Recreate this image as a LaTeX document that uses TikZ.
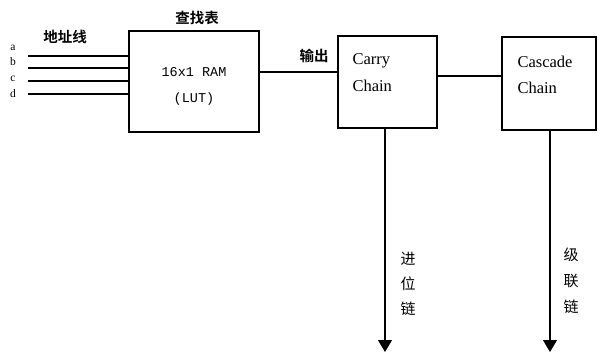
\documentclass[tikz,border=0pt]{standalone}
\usepackage{fontspec}
\setmainfont{Liberation Serif}
\newfontfamily\cjk{Noto Sans CJK SC Bold}
\newfontfamily\cjkr{Noto Sans CJK SC}
\newfontfamily\monof{Liberation Mono}
\usetikzlibrary{arrows.meta}
\begin{document}
\begin{tikzpicture}[x=1pt,y=-1pt,
  line width=1.1pt,
  blk/.style={draw, inner sep=0pt},
  cn/.style={font=\cjk\fontsize{14.5}{15}\selectfont, inner sep=0pt},
  cnv/.style={font=\cjkr\fontsize{15}{16}\selectfont, inner sep=0pt},
  lat/.style={font=\fontsize{16.5}{17}\selectfont, inner sep=0pt, anchor=west},
  addr/.style={font=\fontsize{11.5}{12}\selectfont, inner sep=0pt},
  arr/.style={-{Triangle[length=12pt,width=14pt]}}
]
\useasboundingbox (0,0) rectangle (598,353);
% boxes
\node[blk, minimum width=130pt, minimum height=101pt] (lut) at (194,81.5) {};
\node[blk, minimum width=99pt, minimum height=92pt] (carry) at (387.5,82) {};
\node[blk, minimum width=94pt, minimum height=93pt] (casc) at (549,83.5) {};
% texts
\node[cn] (t1) at (197,18) {查找表};
\node[cn] (t2) at (65,37) {地址线};
\node[cn] (t3) at (314,56) {输出};
\node[font=\monof\fontsize{13.5}{14}\selectfont, inner sep=0pt] (ram) at (194,72) {16x1 RAM};
\node[font=\monof\fontsize{13.5}{14}\selectfont, inner sep=0pt] (lutt) at (194,99) {(LUT)};
\node[lat] (c1) at (352,61) {Carry};
\node[lat] (c2) at (352,86) {Chain};
\node[lat] (d1) at (517,62) {Cascade};
\node[lat] (d2) at (517,88) {Chain};
% address inputs
\node[addr] (la) at (13,48) {a};
\node[addr] (lb) at (13,62) {b};
\node[addr] (lc) at (13,79) {c};
\node[addr] (ld) at (13,94) {d};
\coordinate (ia) at (28,56);
\coordinate (ib) at (28,68);
\coordinate (ic) at (28,81);
\coordinate (id) at (28,94);
\draw (ia) -- (ia -| lut.west);
\draw (ib) -- (ib -| lut.west);
\draw (ic) -- (ic -| lut.west);
\draw (id) -- (id -| lut.west);
% connections
\draw (lut.east |- 0,72) -- (carry.west |- 0,72);
\draw (carry.east |- 0,76) -- (casc.west |- 0,76);
\coordinate (e1) at (385,352);
\coordinate (e2) at (550,352);
\draw[arr] (carry.south -| e1) -- (e1);
\draw[arr] (casc.south -| e2) -- (e2);
% vertical labels
\node[cnv] (v1) at (408,259) {进};
\node[cnv] (v2) at (408,284) {位};
\node[cnv] (v3) at (408,309) {链};
\node[cnv] (w1) at (571,255) {级};
\node[cnv] (w2) at (571,281) {联};
\node[cnv] (w3) at (571,307) {链};
\end{tikzpicture}
\end{document}
